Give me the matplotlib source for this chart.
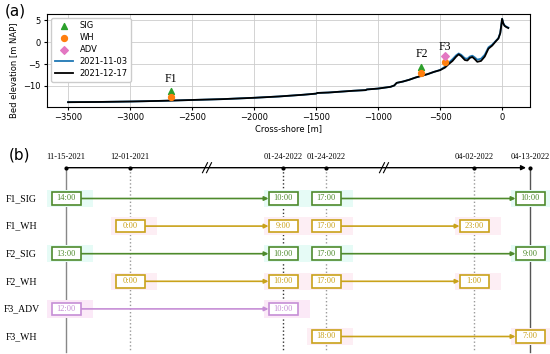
import matplotlib
matplotlib.use('Agg')
import matplotlib.pyplot as plt
from matplotlib.patches import Rectangle

# --- (a) cross-shore profile data ---
x_profile = [-3500, -3250, -3000, -2750, -2500, -2250, -2000, -1800, -1600, -1500,
             -1490, -1400, -1200, -1100, -1090, -1000, -900, -870, -850, -800, -750,
             -700, -650, -600, -550, -500, -460, -430, -400, -370, -350, -330, -300,
             -280, -260, -240, -220, -200, -170, -140, -110, -80, -50, -30, -15, -8,
             0, 10, 20, 35, 50]
z_dec = [-13.7, -13.65, -13.55, -13.4, -13.2, -13.0, -12.7, -12.4, -12.0, -11.75,
         -11.6, -11.5, -11.1, -10.95, -10.8, -10.6, -10.2, -9.9, -9.3, -9.0, -8.6,
         -8.1, -7.7, -7.3, -6.8, -6.4, -5.8, -5.0, -4.3, -3.3, -2.8, -3.2, -4.1,
         -4.2, -3.6, -3.4, -3.9, -4.5, -4.3, -3.3, -1.5, -0.8, 0.2, 0.8, 2.0, 3.5,
         5.3, 4.2, 3.7, 3.4, 3.2]
z_nov = [-13.7, -13.65, -13.55, -13.4, -13.2, -13.0, -12.7, -12.4, -12.0, -11.75,
         -11.6, -11.5, -11.1, -10.95, -10.8, -10.6, -10.2, -9.9, -9.3, -9.0, -8.6,
         -8.1, -7.7, -7.3, -6.8, -6.35, -5.6, -4.7, -3.9, -3.0, -2.6, -2.9, -3.7,
         -3.8, -3.3, -3.1, -3.5, -4.0, -3.8, -2.9, -1.2, -0.6, 0.3, 0.9, 2.1, 3.6,
         5.3, 4.3, 3.8, 3.5, 3.3]

# instrument positions
sig_x = [-2670, -650]
sig_z = [-11.1, -5.6]
wh_x = [-2670, -650, -460]
wh_z = [-12.6, -6.95, -4.6]
adv_x = [-460]
adv_z = [-3.2]
frame_names = ['F1', 'F2', 'F3']
frame_x = [-2670, -650, -460]
frame_z = [-9.7, -4.1, -2.6]

# --- (b) deployment timeline data ---
col_dates = ['11-15-2021', '12-01-2021', '01-24-2022', '01-24-2022', '04-02-2022', '04-13-2022']
row_names = ['F1_SIG', 'F1_WH', 'F2_SIG', 'F2_WH', 'F3_ADV', 'F3_WH']
seg_row = [0, 0, 1, 1, 2, 2, 3, 3, 4, 5]
seg_start_col = [0, 3, 1, 3, 0, 3, 1, 3, 0, 3]
seg_start_time = ['14:00', '17:00', '0:00', '17:00', '13:00', '17:00', '0:00', '17:00', '12:00', '18:00']
seg_end_col = [2, 5, 2, 4, 2, 5, 2, 4, 2, 5]
seg_end_time = ['10:00', '10:00', '9:00', '23:00', '10:00', '9:00', '10:00', '1:00', '10:00', '7:00']

# Layout
col_px = [66, 130, 283, 326, 474, 530]
row_y0, row_dy = 198.5, 27.6
styles = {'SIG': ('#4e8a2c', '#e6fbf6'),
          'WH': ('#c9a21a', '#fdeef4'),
          'ADV': ('#c68ed6', '#fbe9f7')}

fig = plt.figure(figsize=(5.5, 3.54), dpi=100)

# ---------- (a) ----------
ax = fig.add_axes([47 / 550, 1 - 107 / 354, 483 / 550, 93 / 354])
ax.plot(x_profile, z_nov, color='#1f77b4', lw=1.3, label='2021-11-03')
ax.plot(x_profile, z_dec, color='black', lw=1.3, label='2021-12-17')
ax.scatter(sig_x, sig_z, marker='^', color='tab:green', s=18, zorder=3, label='SIG')
ax.scatter(wh_x, wh_z, marker='o', color='tab:orange', s=18, zorder=3, label='WH')
ax.scatter(adv_x, adv_z, marker='D', color='tab:pink', s=15, zorder=3, label='ADV')
for name, fx, fz in zip(frame_names, frame_x, frame_z):
    ax.text(fx, fz, name, family='Liberation Serif', fontsize=8.5, ha='center', va='bottom')
ax.set_xlim(-3670, 225)
ax.set_ylim(-14.8, 6.4)
ax.set_xticks(range(-3500, 1, 500))
ax.set_yticks([-10, -5, 0, 5])
ax.tick_params(labelsize=6, length=2.5, pad=2)
ax.grid(True, color='#cccccc', lw=0.6)
ax.set_xlabel('Cross-shore [m]', fontsize=6, labelpad=1)
ax.set_ylabel('Bed elevation [m NAP]', fontsize=6)
ax.yaxis.set_label_coords(-0.06, 0.4)
h, l = ax.get_legend_handles_labels()
order = [2, 3, 4, 0, 1]
ax.legend([h[i] for i in order], [l[i] for i in order], loc='upper left', fontsize=6,
          handlelength=2.2, borderpad=0.4, labelspacing=0.35, framealpha=1)
fig.text(0.008, 0.99, '(a)', fontsize=11, va='top')

# ---------- (b) ----------
bx = fig.add_axes([0, 0, 1, 1])
bx.set_xlim(0, 550)
bx.set_ylim(354, 0)
bx.axis('off')
bx.patch.set_alpha(0)
fig.text(20 / 550, 1 - 155 / 354, '(b)', fontsize=11, ha='center', va='center')

top_y = 167.7
bx.annotate('', xy=(526, top_y), xytext=(col_px[0], top_y),
            arrowprops=dict(arrowstyle='-|>', color='black', lw=1, mutation_scale=7,
                            shrinkA=0, shrinkB=0))
for bxp in [208, 385]:
    for dx in [-3, 1]:
        bx.plot([bxp + dx - 2.5, bxp + dx + 2.5], [top_y + 5, top_y - 5], color='black', lw=0.8)

vstyle = [('-', '#888888'), (':', '#999999'), (':', '#333333'),
          (':', '#999999'), (':', '#999999'), ('-', '#555555')]
for i, d in enumerate(col_dates):
    ls, c = vstyle[i]
    bx.plot([col_px[i], col_px[i]], [top_y, 352], ls=ls, color=c, lw=1, zorder=1)
    bx.plot(col_px[i], top_y, 'o', color='black', ms=2, zorder=4)
    bx.text(col_px[i], 157, d, family='Liberation Serif', fontsize=6, ha='center', va='center')

for r, name in enumerate(row_names):
    bx.text(21.5, row_y0 + r * row_dy, name, family='Liberation Serif', fontsize=7,
            ha='center', va='center')

bw, bh = 29, 12.5


def box(x, y, txt, edge, band):
    bx.add_patch(Rectangle((x - bw / 2 - 5, y - bh / 2 - 2.5), bw + 17, bh + 5,
                           facecolor=band, edgecolor='none', zorder=2))
    bx.add_patch(Rectangle((x - bw / 2, y - bh / 2), bw, bh, facecolor='white',
                           edgecolor=edge, lw=1.2, zorder=5))
    bx.text(x, y, txt, family='Liberation Serif', fontsize=6, color=edge,
            ha='center', va='center', zorder=6)


for r, c0, t0, c1, t1 in zip(seg_row, seg_start_col, seg_start_time, seg_end_col, seg_end_time):
    kind = row_names[r].split('_')[1]
    edge, band = styles[kind]
    y = row_y0 + r * row_dy
    x0, x1 = col_px[c0], col_px[c1]
    box(x0, y, t0, edge, band)
    box(x1, y, t1, edge, band)
    bx.annotate('', xy=(x1 - bw / 2, y), xytext=(x0 + bw / 2, y),
                arrowprops=dict(arrowstyle='-|>', color=edge, lw=1.2, mutation_scale=6,
                                shrinkA=0, shrinkB=0), zorder=4)

fig.savefig('out.png', dpi=100)
